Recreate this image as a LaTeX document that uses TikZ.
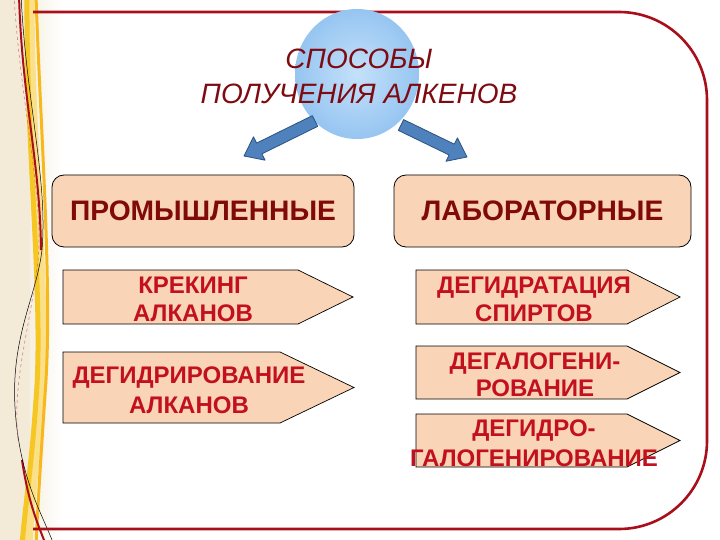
\documentclass[tikz,border=0pt]{standalone}
\usepackage{fontspec}
\setmainfont{Liberation Sans}
\usetikzlibrary{calc,shapes.geometric}
\definecolor{framered}{HTML}{A80F1B}
\definecolor{titlered}{HTML}{7E0B12}
\definecolor{hdrred}{HTML}{800A0A}
\definecolor{chevred}{HTML}{C2101E}
\definecolor{peach}{HTML}{FAD4B6}
\definecolor{arrowblue}{HTML}{4F81BD}
\definecolor{arrowedge}{HTML}{2C5282}
\definecolor{beige}{HTML}{EDE3C8}
\definecolor{gold}{HTML}{F6C623}
\definecolor{lightgold}{HTML}{FBE08A}
\definecolor{circin}{HTML}{C4E1FA}
\definecolor{circout}{HTML}{96C5F1}
\newcommand\fatarrow[2]{%
  \filldraw[fatarr]
    ($(#1)!6pt!90:(#2)$) --
    ($(#2)!17pt!(#1)!6pt!90:(#2)$) --
    ($(#2)!17pt!(#1)!13pt!90:(#2)$) --
    (#2) --
    ($(#2)!17pt!(#1)!13pt!-90:(#2)$) --
    ($(#2)!17pt!(#1)!6pt!-90:(#2)$) --
    ($(#1)!6pt!-90:(#2)$) -- cycle;}
\tikzset{
  frame/.style={draw=framered, line width=2.6pt},
  hdrbox/.style={draw=black, line width=0.8pt, fill=peach, rounded corners=12pt,
    font=\bfseries\fontsize{28.2}{32}\selectfont, text=hdrred},
  chevbox/.style={draw=black, line width=0.7pt, fill=peach},
  chevtext/.style={font=\bfseries\fontsize{24}{28}\selectfont, text=chevred, align=center, inner sep=0pt},
  titletext/.style={font=\itshape\fontsize{28}{35}\selectfont, text=titlered, align=center, inner sep=0pt},
  fatarr/.style={fill=arrowblue, draw=arrowedge, line width=0.8pt, line join=round},
}
\begin{document}
\begin{tikzpicture}[x=1pt,y=-1pt]
\useasboundingbox (0,0) rectangle (720,540);
\fill[white] (0,0) rectangle (720,540);
% left decorative strip
\shade[left color=beige, right color=white] (0,0) rectangle (62,540);
\fill[beige!70!white] (0,0) rectangle (30,540);
\draw[lightgold, line width=9pt, line cap=round] (30,-5) .. controls (30,150) and (48,300) .. (40,400) .. controls (36,460) and (30,500) .. (28,545);
\draw[gold, line width=5pt] (27,-5) .. controls (26,150) and (44,300) .. (36,400) .. controls (32,460) and (26,500) .. (22,545);
\draw[gold!80!orange, line width=3pt] (36,-5) .. controls (40,120) and (52,280) .. (46,380) .. controls (42,440) and (38,500) .. (36,545);
\draw[framered, line width=2pt] (19,-5) .. controls (22,100) and (40,160) .. (41,250);
\draw[framered, line width=2pt] (22,460) .. controls (28,500) and (36,520) .. (46,545);
\draw[black, line width=0.5pt] (21,-5) .. controls (26,100) and (48,180) .. (42,250) .. controls (36,300) and (8,340) .. (16,420) .. controls (22,480) and (40,510) .. (52,540);
\draw[framered!60, line width=0.5pt, dashed] (14,-5) .. controls (20,100) and (44,200) .. (38,260) .. controls (30,330) and (12,380) .. (18,440);
% frame
\draw[frame, rounded corners=88pt] (33,12) -- (707,12) -- (707,529) -- (33,529);
% title circle
\shade[inner color=circin, outer color=circout] (357,74) ellipse [x radius=62, y radius=65];
\node[titletext] (title) at (359,76) {СПОСОБЫ\\ПОЛУЧЕНИЯ АЛКЕНОВ};
% header boxes
\node[hdrbox, minimum width=302pt, minimum height=72pt] (ind) at (203,211) {ПРОМЫШЛЕННЫЕ};
\node[hdrbox, minimum width=297pt, minimum height=72pt] (lab) at (542.5,211) {ЛАБОРАТОРНЫЕ};
% arrows
\coordinate (aLs) at (315,121);
\coordinate (aLe) at (244,156);
\coordinate (aRs) at (401,125);
\coordinate (aRe) at (467,157);
\fatarrow{aLs}{aLe}
\fatarrow{aRs}{aRe}
% chevrons left
\draw[chevbox] (63,270) -- (298,270) -- (353,297) -- (298,324) -- (63,324) -- cycle;
\draw[chevbox] (63,352) -- (280,352) -- (354,387.5) -- (280,423) -- (63,423) -- cycle;
% chevrons right
\draw[chevbox] (416,270) -- (627,270) -- (680,297) -- (627,324) -- (416,324) -- cycle;
\draw[chevbox] (416,346) -- (627,346) -- (680,372.5) -- (627,399) -- (416,399) -- cycle;
\draw[chevbox] (416,414) -- (627,414) -- (680,440.5) -- (627,467) -- (416,467) -- cycle;
% chevron texts
\node[chevtext] (t1) at (193,299.5) {КРЕКИНГ\\АЛКАНОВ};
\node[chevtext, font=\bfseries\fontsize{24}{30}\selectfont] (t2) at (189,390.5) {ДЕГИДРИРОВАНИЕ\\АЛКАНОВ};
\node[chevtext] (t3) at (534,299.5) {ДЕГИДРАТАЦИЯ\\СПИРТОВ};
\node[chevtext, font=\bfseries\fontsize{24}{27}\selectfont] (t4) at (535,375) {ДЕГАЛОГЕНИ-\\РОВАНИЕ};
\node[chevtext, font=\bfseries\fontsize{24}{30}\selectfont] (t5) at (534,443.5) {ДЕГИДРО-\\ГАЛОГЕНИРОВАНИЕ};
\end{tikzpicture}
\end{document}
